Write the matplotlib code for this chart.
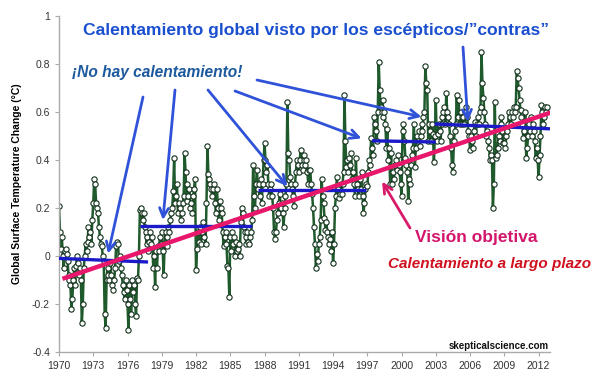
import numpy as np
import matplotlib
matplotlib.use("Agg")
from matplotlib import pyplot as plt

# monthly anomalies (deg C), Jan 1970 onwards
temps_1970s = [
    0.21, 0.10, 0.03, 0.08, 0.00, -0.05, 0.02, 0.03, 0.01, -0.02, -0.08, -0.10,
    -0.12, -0.22, -0.18, -0.10, -0.05, -0.12, -0.04, 0.00, -0.03, -0.08, -0.05, -0.10,
    -0.28, -0.20, -0.05, 0.00, 0.05, 0.02, 0.06, 0.12, 0.08, 0.10, 0.05, 0.15,
    0.22, 0.32, 0.30, 0.22, 0.20, 0.18, 0.12, 0.08, 0.05, 0.04, 0.00, -0.02,
    -0.24, -0.30, -0.10, -0.05, -0.08, -0.10, -0.03, -0.08, -0.12, -0.14, -0.10, -0.05,
    0.04, 0.06, 0.05, -0.02, 0.00, -0.05, -0.08, -0.12, -0.15, -0.18, -0.10, -0.14,
    -0.20, -0.31, -0.12, -0.18, -0.24, -0.10, -0.15, -0.12, -0.20, -0.25, -0.09, -0.10,
    0.00, 0.19, 0.20, 0.18, 0.15, 0.18, 0.12, 0.10, 0.05, 0.08, 0.02, 0.06,
    0.10, 0.05, 0.08, -0.05, 0.00, -0.13, 0.02, -0.05, 0.04, 0.02, 0.08, 0.05,
    0.10, 0.02, -0.08, 0.05, 0.10, 0.04, 0.08, 0.12, 0.10, 0.15, 0.18, 0.20,
]
temps_1980s = [
    0.27, 0.41, 0.22, 0.25, 0.30, 0.18, 0.22, 0.20, 0.15, 0.18, 0.22, 0.25,
    0.43, 0.35, 0.23, 0.30, 0.25, 0.28, 0.20, 0.22, 0.18, 0.25, 0.28, 0.32,
    -0.06, 0.03, 0.10, 0.06, 0.12, 0.05, 0.10, 0.14, 0.08, 0.12, 0.05, 0.22,
    0.46, 0.34, 0.32, 0.30, 0.28, 0.25, 0.28, 0.30, 0.22, 0.18, 0.28, 0.20,
    0.15, 0.23, 0.20, 0.18, 0.10, 0.04, 0.08, 0.10, 0.05, -0.04, -0.05, -0.17,
    0.08, 0.02, 0.10, 0.05, 0.08, 0.00, 0.06, 0.02, 0.03, 0.05, 0.00, 0.14,
    0.20, 0.18, 0.12, 0.10, 0.08, 0.05, 0.10, 0.06, 0.05, 0.08, 0.10, 0.15,
    0.38, 0.25, 0.20, 0.30, 0.36, 0.28, 0.30, 0.25, 0.32, 0.22, 0.30, 0.40,
    0.47, 0.40, 0.35, 0.38, 0.30, 0.25, 0.28, 0.30, 0.25, 0.20, 0.10, 0.07,
    0.10, 0.15, 0.18, 0.22, 0.26, 0.20, 0.22, 0.18, 0.12, 0.20, 0.25, 0.30,
]
temps_1990s = [
    0.64, 0.43, 0.40, 0.33, 0.30, 0.28, 0.25, 0.21, 0.30, 0.35, 0.40, 0.38,
    0.35, 0.40, 0.44, 0.38, 0.36, 0.40, 0.42, 0.38, 0.40, 0.35, 0.30, 0.36,
    0.36, 0.30, 0.26, 0.20, 0.12, 0.05, -0.05, 0.01, -0.02, 0.05, 0.08, 0.15,
    0.32, 0.25, 0.22, 0.16, 0.11, 0.14, 0.10, 0.08, 0.05, 0.07, 0.02, 0.10,
    -0.03, 0.05, 0.20, 0.25, 0.33, 0.28, 0.24, 0.26, 0.30, 0.26, 0.30, 0.35,
    0.67, 0.48, 0.37, 0.40, 0.35, 0.41, 0.38, 0.43, 0.32, 0.35, 0.30, 0.25,
    0.41, 0.30, 0.28, 0.25, 0.32, 0.28, 0.35, 0.25, 0.18, 0.22, 0.28, 0.30,
    0.29, 0.35, 0.40, 0.38, 0.49, 0.45, 0.42, 0.58, 0.55, 0.52, 0.48, 0.60,
    0.81, 0.69, 0.62, 0.60, 0.65, 0.58, 0.60, 0.55, 0.45, 0.53, 0.40, 0.45,
    0.30, 0.43, 0.30, 0.35, 0.32, 0.38, 0.40, 0.36, 0.42, 0.38, 0.35, 0.30,
]
temps_2000s = [
    0.25, 0.52, 0.55, 0.48, 0.41, 0.38, 0.35, 0.23, 0.32, 0.30, 0.38, 0.42,
    0.45, 0.55, 0.37, 0.45, 0.50, 0.48, 0.52, 0.46, 0.50, 0.55, 0.52, 0.58,
    0.60, 0.79, 0.72, 0.69, 0.48, 0.55, 0.52, 0.48, 0.55, 0.51, 0.39, 0.50,
    0.65, 0.48, 0.51, 0.55, 0.52, 0.48, 0.55, 0.58, 0.60, 0.62, 0.55, 0.68,
    0.60, 0.58, 0.55, 0.50, 0.45, 0.38, 0.35, 0.48, 0.52, 0.55, 0.67, 0.58,
    0.65, 0.55, 0.60, 0.58, 0.55, 0.58, 0.55, 0.60, 0.62, 0.58, 0.52, 0.50,
    0.44, 0.50, 0.48, 0.45, 0.52, 0.56, 0.50, 0.55, 0.58, 0.55, 0.60, 0.62,
    0.85, 0.72, 0.66, 0.60, 0.55, 0.50, 0.52, 0.48, 0.45, 0.40, 0.42, 0.40,
    0.20, 0.30, 0.64, 0.41, 0.42, 0.45, 0.50, 0.48, 0.55, 0.58, 0.52, 0.47,
    0.47, 0.45, 0.50, 0.52, 0.55, 0.60, 0.58, 0.55, 0.60, 0.58, 0.62, 0.60,
]
temps_2010s = [
    0.62, 0.77, 0.74, 0.70, 0.65, 0.61, 0.58, 0.55, 0.49, 0.52, 0.60, 0.41,
    0.45, 0.50, 0.55, 0.52, 0.58, 0.50, 0.55, 0.52, 0.48, 0.41, 0.45, 0.40,
    0.33, 0.42, 0.50, 0.63, 0.60, 0.55, 0.58, 0.62, 0.60, 0.62,
]

# "escalator" steps: (start year, end year, start value, end value)
steps = [
    (1970.0, 1977.8, -0.01, -0.025),
    (1977.1, 1986.9, 0.125, 0.125),
    (1987.4, 1996.9, 0.275, 0.275),
    (1997.4, 2003.0, 0.48, 0.475),
    (2002.9, 2013.0, 0.55, 0.53),
]
trend_years = [1970.3, 2013.2]
trend_values = [-0.095, 0.60]

# arrow targets (year, value) for "no warming" labels
no_warming_targets = [(1974.3, 0.01), (1979.1, 0.15), (1990.0, 0.29),
                      (1996.5, 0.49), (2001.75, 0.58)]

x_ticks = list(range(1970, 2013, 3))
y_ticks = [-0.4, -0.2, 0, 0.2, 0.4, 0.6, 0.8, 1]
y_tick_labels = ["-0.4", "-0.2", "0", "0.2", "0.4", "0.6", "0.8", "1"]

W, H = 602, 379
plt.rcParams['font.family'] = ['Liberation Sans', 'DejaVu Sans']


def fp(x, y):
    # pixel position (from top-left) -> figure fraction
    return x / W, 1 - y / H


temps = np.array(temps_1970s + temps_1980s + temps_1990s + temps_2000s + temps_2010s)
years = 1970 + np.arange(len(temps)) / 12.0

fig = plt.figure(figsize=(W / 100, H / 100), dpi=100)
ax = fig.add_axes([59 / W, 27 / H, 491 / W, 336 / H])

ax.plot(years, temps, color='#1f5a2c', lw=1.8, marker='o', ms=3.8,
        mfc='white', mec='#10301a', mew=0.8, zorder=2)

for x0, x1, v0, v1 in steps:
    ax.plot([x0, x1], [v0, v1], color='#1a1ac8', lw=2.4, solid_capstyle='butt', zorder=3)

ax.plot(trend_years, trend_values, color='#e8176c', lw=3.2, solid_capstyle='butt', zorder=4)

ax.set_xlim(1970, 2013)
ax.set_ylim(-0.4, 1)
ax.set_xticks(x_ticks)
ax.set_yticks(y_ticks)
ax.set_yticklabels(y_tick_labels)
ax.tick_params(labelsize=7.5, colors='#333333', length=3, width=0.8)
ax.tick_params(axis='both', color='#aaaaaa')
for side in ['top', 'right']:
    ax.spines[side].set_visible(False)
for side in ['left', 'bottom']:
    ax.spines[side].set_color('#aaaaaa')
    ax.spines[side].set_linewidth(1.0)

ax.set_ylabel('Global Surface Temperature Change (°C)', fontsize=7.5, fontweight='bold',
              labelpad=7)

# annotations
arrow_blue = dict(arrowstyle='->', color='#2f52d8', lw=2.0, mutation_scale=16,
                  shrinkA=0, shrinkB=0)
tails = [(143, 97), (175, 90), (208, 90), (235, 91), (257, 80)]
for (tx, ty), target in zip(tails, no_warming_targets):
    ax.annotate('', xy=target, xycoords='data', xytext=fp(tx, ty),
                textcoords='figure fraction', arrowprops=arrow_blue, zorder=5)
ax.annotate('', xy=(2005.8, 0.56), xycoords='data', xytext=fp(463, 47),
            textcoords='figure fraction', arrowprops=arrow_blue, zorder=5)
ax.annotate('', xy=(1998.3, 0.31), xycoords='data', xytext=fp(410, 228),
            textcoords='figure fraction',
            arrowprops=dict(arrowstyle='->', color='#d81a6a', lw=2.0, mutation_scale=16,
                            shrinkA=0, shrinkB=0), zorder=5)

fig.text(*fp(316, 30), 'Calentamiento global visto por los escépticos/\u201dcontras\u201d',
         color='#1a4fcf', fontsize=12.6, fontweight='bold', ha='center', va='center')
fig.text(*fp(157, 73), '¡No hay calentamiento!', color='#1c5a9e', fontsize=11.2,
         fontweight='bold', style='italic', ha='center', va='center')
fig.text(*fp(476, 237), 'Visión objetiva', color='#d3156b', fontsize=12.5,
         fontweight='bold', ha='center', va='center')
fig.text(*fp(490, 264), 'Calentamiento a largo plazo', color='#d0101e', fontsize=11,
         fontweight='bold', style='italic', ha='center', va='center')
fig.text(*fp(549, 346), 'skepticalscience.com', color='#111111', fontsize=7,
         fontweight='bold', ha='right', va='center')

fig.savefig('out.png', dpi=100)
